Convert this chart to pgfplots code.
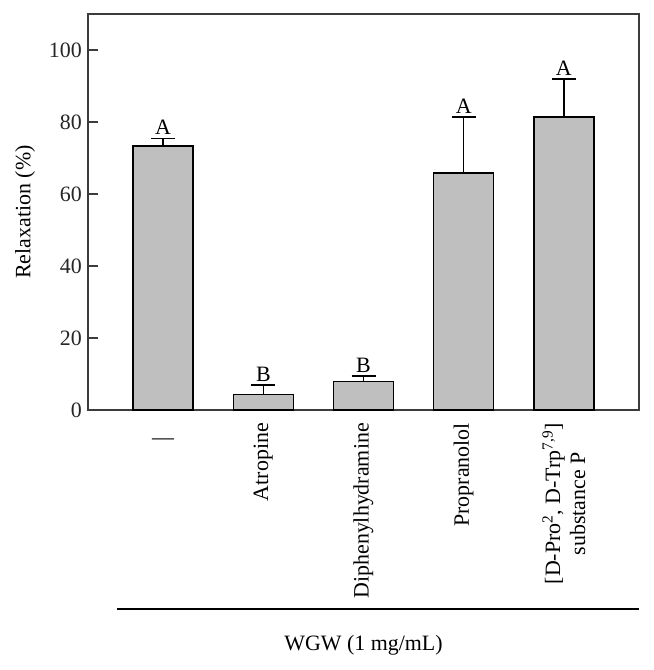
\documentclass[border=0pt]{standalone}
\usepackage{fontspec}
\setmainfont{Liberation Serif}
\usepackage{pgfplots}
\pgfplotsset{compat=1.18}
\definecolor{barfill}{RGB}{191,191,191}
\definecolor{frame}{RGB}{60,60,60}
\newcommand{\lblfont}{\fontsize{22}{25}\selectfont}
\begin{document}
\begin{tikzpicture}
\useasboundingbox (0,0) rectangle (654bp,670bp);
\begin{axis}[
  at={(88bp,260bp)}, anchor=south west,
  scale only axis,
  width=551bp, height=396bp,
  xmin=-0.75, xmax=4.75,
  ymin=0, ymax=110,
  xtick={0,1,2,3,4},
  xticklabels={{\rotatebox{-90}{---}\hspace{16bp}\rule{0pt}{0pt}}, Atropine, Diphenylhydramine, Propranolol,
               {[D-Pro\textsuperscript{2}, D-Trp\textsuperscript{7,9}]\\substance P}},
  xticklabel style={rotate=90, anchor=east, align=center, font=\lblfont,
                    xshift=-11bp, inner sep=2bp},
  xtick style={draw=none},
  ytick={0,20,40,60,80,100},
  ytick pos=left,
  tick align=inside,
  major tick length=10bp,
  ytick style={frame, line width=1.4bp},
  yticklabel style={font=\lblfont, text=black!85, inner sep=2bp, xshift=-4bp},
  /pgf/number format/assume math mode=true,
  axis line style={draw=frame, line width=1.6bp},
  ylabel={Relaxation (\%)},
  ylabel style={font=\lblfont, at={(axis description cs:-0.114,0.5)}, anchor=center},
  xlabel={WGW (1 mg/mL)},
  xlabel style={font=\lblfont, at={(axis description cs:0.5,-0.593)}, anchor=center},
  clip=false,
]
\addplot[ybar, bar width=0.6, fill=barfill, draw=black, line width=1.5bp,
         error bars/.cd, y dir=plus, y explicit,
         error bar style={black, line width=1.4bp},
         error mark options={black, rotate=90, mark size=12bp, line width=1.6bp}]
  coordinates {
    (0,73.3) +- (0,2.1)
    (1,4.3)  +- (0,2.6)
    (2,7.9)  +- (0,1.6)
    (3,65.8) +- (0,15.6)
    (4,81.4) +- (0,10.6)
  };
\addplot[draw=none, mark=none, nodes near coords, point meta=explicit symbolic,
         nodes near coords style={anchor=south, font=\lblfont, inner sep=0pt, yshift=3.5bp}]
  coordinates {
    (0,75.4)[A]
    (1,6.9)[B]
    (2,9.5)[B]
    (3,81.4)[A]
    (4,92.0)[A]
  };
\draw[black, line width=1.4bp]
  (axis description cs:0.0526,-0.5025) -- (axis description cs:1,-0.5025);
\end{axis}
\end{tikzpicture}
\end{document}
